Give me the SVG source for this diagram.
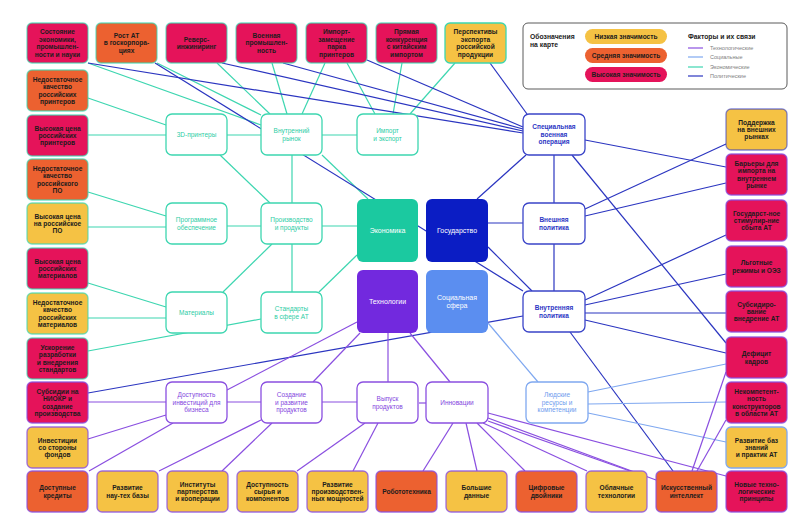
<svg xmlns="http://www.w3.org/2000/svg" width="808" height="528" viewBox="0 0 808 528">
<style>
text{font-family:"Liberation Sans","Noto Sans",sans-serif;text-anchor:middle}
.lb{font-size:6.6px;font-weight:700;fill:#1c1c1c}
.f{stroke-width:1.3}
.hi{fill:#E5135A}
.md{fill:#EC6130}
.lo{fill:#F5C244}
.be{stroke:#3DD6B0;stroke-opacity:.7}
.bp{stroke:#3038C2;stroke-opacity:.6}
.bt{stroke:#8A4FE0;stroke-opacity:.8}
.bs{stroke:#7FA8F0}
.n2{fill:#fff;stroke-width:1.3}
.te{fill:#2CCDA5;font-size:6.5px}
.tp{fill:#2B36C4;font-size:6.5px;font-weight:700}
.tt{fill:#8447DE;font-size:6.5px}
.ts{fill:#6E9BEE;font-size:6.5px}
.cw{fill:#fff;font-size:7px}
.ce{stroke:#3DD6B0;stroke-width:1.2;fill:none}
.cp{stroke:#2B35C0;stroke-width:1.2;fill:none}
.ct{stroke:#8A4FE0;stroke-width:1.2;fill:none}
.cs{stroke:#7FA8F0;stroke-width:1.2;fill:none}
.lg{font-size:5.5px;fill:#808080;text-anchor:start}
.lh{font-size:6.8px;font-weight:700;fill:#222;text-anchor:start}
</style>
<rect width="808" height="528" fill="#fff"/>
<g id="connectors">
<g class="ce">
<line x1="88" y1="63" x2="261" y2="125"/>
<line x1="157" y1="63" x2="261" y2="115"/>
<line x1="217" y1="63" x2="270" y2="114"/>
<line x1="272" y1="63" x2="287" y2="114"/>
<line x1="325" y1="63" x2="302" y2="114"/>
<line x1="347" y1="63" x2="375" y2="114"/>
<line x1="402" y1="63" x2="393" y2="114"/>
<line x1="455" y1="63" x2="410" y2="114"/>
<line x1="88" y1="98" x2="166" y2="125"/>
<line x1="88" y1="135" x2="166" y2="135"/>
<line x1="227" y1="135" x2="261" y2="135"/>
<line x1="322" y1="135" x2="357" y2="135"/>
<line x1="292" y1="155" x2="292" y2="203"/>
<line x1="220" y1="155" x2="270" y2="203"/>
<line x1="322" y1="155" x2="368" y2="199"/>
<line x1="88" y1="192" x2="166" y2="216"/>
<line x1="88" y1="227" x2="166" y2="227"/>
<line x1="227" y1="226" x2="261" y2="226"/>
<line x1="322" y1="226" x2="357" y2="226"/>
<line x1="272" y1="244" x2="223" y2="292"/>
<line x1="292" y1="244" x2="292" y2="292"/>
<line x1="319" y1="292" x2="357" y2="255"/>
<line x1="88" y1="283" x2="166" y2="307"/>
<line x1="88" y1="318" x2="166" y2="318"/>
<line x1="88" y1="351" x2="261" y2="319"/>
</g>
<g class="cp">
<line x1="88" y1="63" x2="523" y2="133"/>
<line x1="155" y1="63" x2="523" y2="291"/>
<line x1="222" y1="63" x2="523" y2="131"/>
<line x1="283" y1="63" x2="523" y2="129"/>
<line x1="367" y1="60" x2="523" y2="127"/>
<line x1="490" y1="63" x2="527" y2="114"/>
<line x1="526" y1="155" x2="477" y2="199"/>
<line x1="554" y1="155" x2="554" y2="203"/>
<line x1="572" y1="155" x2="726" y2="343"/>
<line x1="585" y1="140" x2="726" y2="167"/>
<line x1="488" y1="223" x2="523" y2="223"/>
<line x1="585" y1="209" x2="726" y2="144"/>
<line x1="585" y1="216" x2="726" y2="183"/>
<line x1="554" y1="244" x2="554" y2="291"/>
<line x1="488" y1="247" x2="532" y2="291"/>
<line x1="585" y1="300" x2="726" y2="235"/>
<line x1="585" y1="305" x2="726" y2="274"/>
<line x1="585" y1="313" x2="726" y2="313"/>
<line x1="585" y1="320" x2="726" y2="353"/>
<line x1="570" y1="332" x2="673" y2="471"/>
<line x1="88" y1="393" x2="523" y2="316"/>
</g>
<g class="cs">
<line x1="488" y1="323" x2="538" y2="382"/>
<line x1="588" y1="392" x2="726" y2="364"/>
<line x1="588" y1="404" x2="726" y2="402"/>
<line x1="588" y1="413" x2="726" y2="442"/>
</g>
<g class="ct">
<line x1="357" y1="322" x2="227" y2="390"/>
<line x1="360" y1="333" x2="313" y2="382"/>
<line x1="388" y1="333" x2="388" y2="382"/>
<line x1="410" y1="333" x2="450" y2="382"/>
<line x1="88" y1="402" x2="166" y2="402"/>
<line x1="166" y1="415" x2="88" y2="439"/>
<line x1="173" y1="423" x2="89" y2="471"/>
<line x1="227" y1="402" x2="261" y2="402"/>
<line x1="261" y1="420" x2="159" y2="471"/>
<line x1="272" y1="423" x2="222" y2="471"/>
<line x1="322" y1="402" x2="357" y2="402"/>
<line x1="365" y1="423" x2="297" y2="471"/>
<line x1="378" y1="423" x2="353" y2="471"/>
<line x1="419" y1="403" x2="426" y2="403"/>
<line x1="453" y1="423" x2="423" y2="471"/>
<line x1="466" y1="423" x2="477" y2="471"/>
<line x1="477" y1="423" x2="525" y2="471"/>
<line x1="483" y1="423" x2="587" y2="471"/>
<line x1="488" y1="421" x2="630" y2="471"/>
<line x1="488" y1="418" x2="656" y2="480"/>
<line x1="488" y1="413" x2="726" y2="476"/>
<line x1="692" y1="471" x2="726" y2="372"/>
<line x1="697" y1="471" x2="726" y2="420"/>
</g>
</g>

<g id="legend">
<rect x="523" y="23" width="264" height="66" rx="5" fill="#fff" stroke="#5a5a5a" stroke-width="1"/>
<text class="lh" x="530" y="39">Обозначения<tspan x="530" dy="7.9">на карте</tspan></text>
<rect x="585" y="29" width="82" height="15" rx="7.5" class="lo"/>
<rect x="585" y="48" width="82" height="15" rx="7.5" class="md"/>
<rect x="585" y="67" width="82" height="15" rx="7.5" class="hi"/>
<text class="lb" x="626" y="38.7">Низкая значимость</text>
<text class="lb" x="626" y="57.7">Средняя значимость</text>
<text class="lb" x="626" y="76.7">Высокая значимость</text>
<text class="lh" x="688" y="39">Факторы и их связи</text>
<line x1="688" y1="48" x2="703" y2="48" class="ct"/>
<line x1="688" y1="57" x2="703" y2="57" class="cs"/>
<line x1="688" y1="67" x2="703" y2="67" class="ce"/>
<line x1="688" y1="76" x2="703" y2="76" class="cp"/>
<text class="lg" x="710" y="50">Технологические</text>
<text class="lg" x="710" y="59">Социальные</text>
<text class="lg" x="710" y="69">Экономические</text>
<text class="lg" x="710" y="78">Политические</text>
</g>

<!-- top row -->
<g id="n-sost"><rect x="27" y="23" width="61" height="40" rx="5" class="hi be f"/><text class="lb" x="57.5" y="34.3">Состояние<tspan x="57.5" dy="7.4">экономики,</tspan><tspan x="57.5" dy="7.4">промышлен-</tspan><tspan x="57.5" dy="7.4">ности и науки</tspan></text></g>
<g id="n-rost"><rect x="96" y="23" width="61" height="40" rx="5" class="md be f"/><text class="lb" x="126.5" y="38">Рост АТ<tspan x="126.5" dy="7.4">в госкорпора-</tspan><tspan x="126.5" dy="7.4">циях</tspan></text></g>
<g id="n-revers"><rect x="166" y="23" width="61" height="40" rx="5" class="hi be f"/><text class="lb" x="196.5" y="41.6">Реверс-<tspan x="196.5" dy="7.4">инжиниринг</tspan></text></g>
<g id="n-voen"><rect x="236" y="23" width="61" height="40" rx="5" class="hi be f"/><text class="lb" x="266.5" y="38">Военная<tspan x="266.5" dy="7.4">промышлен-</tspan><tspan x="266.5" dy="7.4">ность</tspan></text></g>
<g id="n-importzam"><rect x="306" y="23" width="61" height="40" rx="5" class="hi be f"/><text class="lb" x="336.5" y="34.3">Импорт-<tspan x="336.5" dy="7.4">замещение</tspan><tspan x="336.5" dy="7.4">парка</tspan><tspan x="336.5" dy="7.4">принтеров</tspan></text></g>
<g id="n-pryam"><rect x="376" y="23" width="61" height="40" rx="5" class="hi be f"/><text class="lb" x="406.5" y="34.3">Прямая<tspan x="406.5" dy="7.4">конкуренция</tspan><tspan x="406.5" dy="7.4">с китайским</tspan><tspan x="406.5" dy="7.4">импортом</tspan></text></g>
<g id="n-persp"><rect x="445" y="23" width="61" height="40" rx="5" class="lo f" stroke="#3DD6B0"/><text class="lb" x="475.5" y="34.3">Перспективы<tspan x="475.5" dy="7.4">экспорта</tspan><tspan x="475.5" dy="7.4">российской</tspan><tspan x="475.5" dy="7.4">продукции</tspan></text></g>

<!-- left column -->
<g id="n-l1"><rect x="27" y="70" width="61" height="41" rx="5" class="md be f"/><text class="lb" x="57.5" y="81.8">Недостаточное<tspan x="57.5" dy="7.4">качество</tspan><tspan x="57.5" dy="7.4">российских</tspan><tspan x="57.5" dy="7.4">принтеров</tspan></text></g>
<g id="n-l2"><rect x="27" y="115" width="61" height="41" rx="5" class="hi be f"/><text class="lb" x="57.5" y="130.5">Высокая цена<tspan x="57.5" dy="7.4">российских</tspan><tspan x="57.5" dy="7.4">принтеров</tspan></text></g>
<g id="n-l3"><rect x="27" y="159" width="61" height="41" rx="5" class="md be f"/><text class="lb" x="57.5" y="170.8">Недостаточное<tspan x="57.5" dy="7.4">качество</tspan><tspan x="57.5" dy="7.4">российского</tspan><tspan x="57.5" dy="7.4">ПО</tspan></text></g>
<g id="n-l4"><rect x="27" y="203" width="61" height="41" rx="5" class="lo be f"/><text class="lb" x="57.5" y="218.5">Высокая цена<tspan x="57.5" dy="7.4">на российское</tspan><tspan x="57.5" dy="7.4">ПО</tspan></text></g>
<g id="n-l5"><rect x="27" y="248" width="61" height="41" rx="5" class="hi be f"/><text class="lb" x="57.5" y="263.5">Высокая цена<tspan x="57.5" dy="7.4">российских</tspan><tspan x="57.5" dy="7.4">материалов</tspan></text></g>
<g id="n-l6"><rect x="27" y="293" width="61" height="41" rx="5" class="lo be f"/><text class="lb" x="57.5" y="304.8">Недостаточное<tspan x="57.5" dy="7.4">качество</tspan><tspan x="57.5" dy="7.4">российских</tspan><tspan x="57.5" dy="7.4">материалов</tspan></text></g>
<g id="n-l7"><rect x="27" y="338" width="61" height="41" rx="5" class="hi be f"/><text class="lb" x="57.5" y="349.8">Ускорение<tspan x="57.5" dy="7.4">разработки</tspan><tspan x="57.5" dy="7.4">и внедрения</tspan><tspan x="57.5" dy="7.4">стандартов</tspan></text></g>
<g id="n-l8"><rect x="27" y="382" width="61" height="41" rx="5" class="hi bt f"/><text class="lb" x="57.5" y="393.8">Субсидии на<tspan x="57.5" dy="7.4">НИОКР и</tspan><tspan x="57.5" dy="7.4">создание</tspan><tspan x="57.5" dy="7.4">производства</tspan></text></g>
<g id="n-l9"><rect x="27" y="427" width="61" height="41" rx="5" class="lo bt f"/><text class="lb" x="57.5" y="442.5">Инвестиции<tspan x="57.5" dy="7.4">со стороны</tspan><tspan x="57.5" dy="7.4">фондов</tspan></text></g>
<g id="n-l10"><rect x="27" y="471" width="61" height="41" rx="5" class="md bt f"/><text class="lb" x="57.5" y="490.1">Доступные<tspan x="57.5" dy="7.4">кредиты</tspan></text></g>

<!-- bottom row -->
<g id="n-b1"><rect x="97" y="471" width="61" height="41" rx="5" class="lo bt f"/><text class="lb" x="127.5" y="490.1">Развитие<tspan x="127.5" dy="7.4">нау-тех базы</tspan></text></g>
<g id="n-b2"><rect x="167" y="471" width="61" height="41" rx="5" class="lo bt f"/><text class="lb" x="197.5" y="486.5">Институты<tspan x="197.5" dy="7.4">партнерства</tspan><tspan x="197.5" dy="7.4">и кооперации</tspan></text></g>
<g id="n-b3"><rect x="237" y="471" width="61" height="41" rx="5" class="lo bt f"/><text class="lb" x="267.5" y="486.5">Доступность<tspan x="267.5" dy="7.4">сырья и</tspan><tspan x="267.5" dy="7.4">компонентов</tspan></text></g>
<g id="n-b4"><rect x="307" y="471" width="61" height="41" rx="5" class="lo bt f"/><text class="lb" x="337.5" y="486.5">Развитие<tspan x="337.5" dy="7.4">производствен-</tspan><tspan x="337.5" dy="7.4">ных мощностей</tspan></text></g>
<g id="n-b5"><rect x="376" y="471" width="61" height="41" rx="5" class="md bt f"/><text class="lb" x="406.5" y="493.8">Робототехника</text></g>
<g id="n-b6"><rect x="446" y="471" width="61" height="41" rx="5" class="lo bt f"/><text class="lb" x="476.5" y="490.1">Большие<tspan x="476.5" dy="7.4">данные</tspan></text></g>
<g id="n-b7"><rect x="516" y="471" width="61" height="41" rx="5" class="md bt f"/><text class="lb" x="546.5" y="490.1">Цифровые<tspan x="546.5" dy="7.4">двойники</tspan></text></g>
<g id="n-b8"><rect x="586" y="471" width="61" height="41" rx="5" class="lo bt f"/><text class="lb" x="616.5" y="490.1">Облачные<tspan x="616.5" dy="7.4">технологии</tspan></text></g>
<g id="n-b9"><rect x="656" y="471" width="61" height="41" rx="5" class="md bt f"/><text class="lb" x="686.5" y="490.1">Искусственный<tspan x="686.5" dy="7.4">интеллект</tspan></text></g>
<g id="n-b10"><rect x="726" y="471" width="61" height="41" rx="5" class="hi bt f"/><text class="lb" x="756.5" y="486.5">Новые техно-<tspan x="756.5" dy="7.4">логические</tspan><tspan x="756.5" dy="7.4">принципы</tspan></text></g>

<!-- right column -->
<g id="n-r1"><rect x="726" y="109" width="61" height="41" rx="5" class="lo bp f"/><text class="lb" x="756.5" y="124.5">Поддержка<tspan x="756.5" dy="7.4">на внешних</tspan><tspan x="756.5" dy="7.4">рынках</tspan></text></g>
<g id="n-r2"><rect x="726" y="154" width="61" height="41" rx="5" class="hi bt f"/><text class="lb" x="756.5" y="165.8">Барьеры для<tspan x="756.5" dy="7.4">импорта на</tspan><tspan x="756.5" dy="7.4">внутреннем</tspan><tspan x="756.5" dy="7.4">рынке</tspan></text></g>
<g id="n-r3"><rect x="726" y="200" width="61" height="41" rx="5" class="hi bt f"/><text class="lb" x="756.5" y="215.5">Государст-ное<tspan x="756.5" dy="7.4">стимулир-ние</tspan><tspan x="756.5" dy="7.4">сбыта АТ</tspan></text></g>
<g id="n-r4"><rect x="726" y="246" width="61" height="41" rx="5" class="hi bt f"/><text class="lb" x="756.5" y="265.1">Льготные<tspan x="756.5" dy="7.4">режимы и ОЭЗ</tspan></text></g>
<g id="n-r5"><rect x="726" y="291" width="61" height="41" rx="5" class="hi bt f"/><text class="lb" x="756.5" y="306.5">Субсидиро-<tspan x="756.5" dy="7.4">вание</tspan><tspan x="756.5" dy="7.4">внедрение АТ</tspan></text></g>
<g id="n-r6"><rect x="726" y="337" width="61" height="41" rx="5" class="hi bt f"/><text class="lb" x="756.5" y="356.1">Дефицит<tspan x="756.5" dy="7.4">кадров</tspan></text></g>
<g id="n-r7"><rect x="726" y="382" width="61" height="41" rx="5" class="hi bt f"/><text class="lb" x="756.5" y="393.8">Некомпетент-<tspan x="756.5" dy="7.4">ность</tspan><tspan x="756.5" dy="7.4">конструкторов</tspan><tspan x="756.5" dy="7.4">в области АТ</tspan></text></g>
<g id="n-r8"><rect x="726" y="427" width="61" height="41" rx="5" class="lo bs f"/><text class="lb" x="756.5" y="442.5">Развитие баз<tspan x="756.5" dy="7.4">знаний</tspan><tspan x="756.5" dy="7.4">и практик АТ</tspan></text></g>

<!-- second level -->
<g id="n-3d"><rect x="166" y="114" width="61" height="41" rx="6" class="n2" stroke="#3DD6B0"/><text class="te" x="196.5" y="136.8">3D-принтеры</text></g>
<g id="n-vnr"><rect x="261" y="114" width="61" height="41" rx="6" class="n2" stroke="#3DD6B0"/><text class="te" x="291.5" y="133.1">Внутренний<tspan x="291.5" dy="7.4">рынок</tspan></text></g>
<g id="n-imp"><rect x="357" y="114" width="61" height="41" rx="6" class="n2" stroke="#3DD6B0"/><text class="te" x="387.5" y="133.1">Импорт<tspan x="387.5" dy="7.4">и экспорт</tspan></text></g>
<g id="n-svo"><rect x="523" y="114" width="62" height="41" rx="6" class="n2" stroke="#3A44C8"/><text class="tp" x="554" y="129.3">Специальная<tspan x="554" dy="7.4">военная</tspan><tspan x="554" dy="7.4">операция</tspan></text></g>
<g id="n-po"><rect x="166" y="203" width="61" height="41" rx="6" class="n2" stroke="#3DD6B0"/><text class="te" x="196.5" y="222.1">Программное<tspan x="196.5" dy="7.4">обеспечение</tspan></text></g>
<g id="n-proizv"><rect x="261" y="203" width="61" height="41" rx="6" class="n2" stroke="#3DD6B0"/><text class="te" x="291.5" y="222.1">Производство<tspan x="291.5" dy="7.4">и продукты</tspan></text></g>
<g id="n-vnesh"><rect x="523" y="203" width="62" height="41" rx="6" class="n2" stroke="#3A44C8"/><text class="tp" x="554" y="222.1">Внешняя<tspan x="554" dy="7.4">политика</tspan></text></g>
<g id="n-mat"><rect x="166" y="292" width="61" height="41" rx="6" class="n2" stroke="#3DD6B0"/><text class="te" x="196.5" y="314.8">Материалы</text></g>
<g id="n-stand"><rect x="261" y="292" width="61" height="41" rx="6" class="n2" stroke="#3DD6B0"/><text class="te" x="291.5" y="311.1">Стандарты<tspan x="291.5" dy="7.4">в сфере АТ</tspan></text></g>
<g id="n-vnutp"><rect x="523" y="291" width="62" height="41" rx="6" class="n2" stroke="#3A44C8"/><text class="tp" x="554" y="310.1">Внутренняя<tspan x="554" dy="7.4">политика</tspan></text></g>
<g id="n-dost"><rect x="166" y="382" width="61" height="41" rx="6" class="n2" stroke="#8A4FE0"/><text class="tt" x="196.5" y="397.3">Доступность<tspan x="196.5" dy="7.4">инвестиций для</tspan><tspan x="196.5" dy="7.4">бизнеса</tspan></text></g>
<g id="n-sozd"><rect x="261" y="382" width="61" height="41" rx="6" class="n2" stroke="#8A4FE0"/><text class="tt" x="291.5" y="397.3">Создание<tspan x="291.5" dy="7.4">и развитие</tspan><tspan x="291.5" dy="7.4">продуктов</tspan></text></g>
<g id="n-vyp"><rect x="357" y="382" width="61" height="41" rx="6" class="n2" stroke="#8A4FE0"/><text class="tt" x="387.5" y="401.1">Выпуск<tspan x="387.5" dy="7.4">продуктов</tspan></text></g>
<g id="n-innov"><rect x="426" y="382" width="62" height="41" rx="6" class="n2" stroke="#8A4FE0"/><text class="tt" x="457" y="404.8">Инновации</text></g>
<g id="n-lyud"><rect x="526" y="382" width="62" height="41" rx="6" class="n2" stroke="#7FA8F0"/><text class="ts" x="557" y="397.3">Людские<tspan x="557" dy="7.4">ресурсы и</tspan><tspan x="557" dy="7.4">компетенции</tspan></text></g>

<!-- central -->
<g id="n-econ"><rect x="357" y="199" width="61" height="63" rx="6" fill="#1BC9A0"/><text class="cw" x="387.5" y="233">Экономика</text></g>
<g id="n-gos"><rect x="426" y="199" width="62" height="63" rx="6" fill="#0B1DC4"/><text class="cw" x="457" y="233">Государство</text></g>
<g id="n-tech"><rect x="357" y="270" width="61" height="63" rx="6" fill="#7229DE"/><text class="cw" x="387.5" y="304">Технологии</text></g>
<g id="n-soc"><rect x="426" y="270" width="62" height="63" rx="6" fill="#5B8EF0"/><text class="cw" x="457" y="300">Социальная<tspan x="457" dy="8">сфера</tspan></text></g>
</svg>
